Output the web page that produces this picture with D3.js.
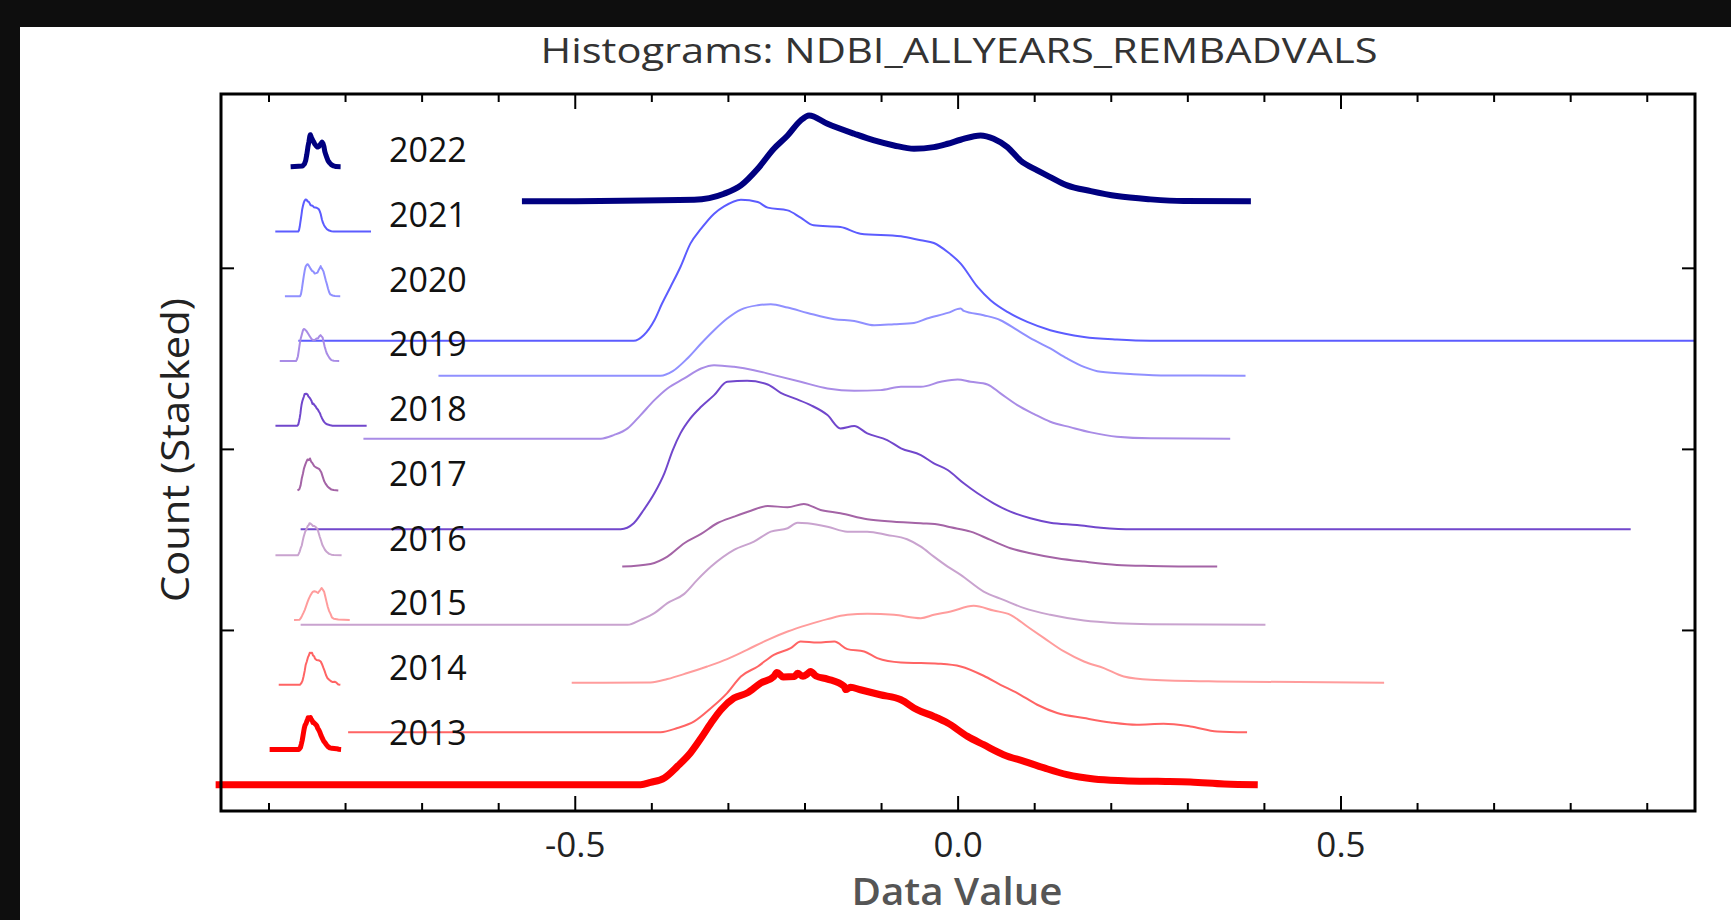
<!DOCTYPE html>
<html>
<head>
<meta charset="utf-8">
<script src="https://cdn.jsdelivr.net/npm/d3@7"></script>
<style>
  html, body { margin: 0; padding: 0; background: #0e0e0e; }
  svg { display: block; }
  text { font-family: "Open Sans", "Noto Sans", sans-serif; }
</style>
</head>
<body>
<div id="chart"></div>
<script>
// ---- data ----
// each histogram is [data value, count above its own stack offset]
const years = [2013, 2014, 2015, 2016, 2017, 2018, 2019, 2020, 2021, 2022];
const stackOffsets = [1456, 4352, 7083, 10282, 13498, 15561, 20564, 24039, 25975, 33670];

const hist2013 = [[-0.969,0],[-0.414,0],[-0.401,127],[-0.383,370],[-0.366,1009],[-0.349,1749],[-0.335,2576],[-0.322,3403],[-0.309,4137],[-0.292,4782],[-0.275,5058],[-0.257,5610],[-0.240,5974],[-0.236,6200],[-0.228,5950],[-0.213,5974],[-0.209,6150],[-0.202,5980],[-0.196,6123],[-0.192,6250],[-0.185,6000],[-0.170,5831],[-0.148,5422],[-0.146,5250],[-0.140,5380],[-0.127,5240],[-0.101,4964],[-0.074,4689],[-0.053,4137],[-0.031,3767],[-0.013,3403],[0.013,2665],[0.034,2206],[0.060,1655],[0.087,1285],[0.113,921],[0.143,552],[0.178,314],[0.217,221],[0.261,182],[0.304,149],[0.348,39],[0.392,0]];
const hist2014 = [[-0.796,0],[-0.388,0],[-0.366,232],[-0.344,596],[-0.322,1335],[-0.301,2162],[-0.283,3078],[-0.261,3630],[-0.240,4275],[-0.218,4645],[-0.205,5009],[-0.183,4953],[-0.161,5009],[-0.144,4589],[-0.122,4457],[-0.105,4093],[-0.074,3850],[-0.048,3817],[-0.022,3779],[0.004,3630],[0.034,3117],[0.056,2620],[0.078,2162],[0.104,1517],[0.130,1059],[0.165,783],[0.200,541],[0.234,414],[0.269,469],[0.304,320],[0.339,44],[0.378,0]];
const hist2015 = [[-0.504,0],[-0.401,17],[-0.379,204],[-0.353,535],[-0.327,899],[-0.301,1307],[-0.275,1820],[-0.248,2372],[-0.222,2830],[-0.196,3199],[-0.170,3514],[-0.144,3751],[-0.118,3806],[-0.083,3751],[-0.048,3569],[-0.031,3751],[-0.009,3933],[0.021,4247],[0.047,3988],[0.069,3751],[0.091,3106],[0.113,2466],[0.139,1727],[0.165,1175],[0.191,811],[0.217,348],[0.252,165],[0.339,72],[0.557,0]];
const hist2016 = [[-0.858,0],[-0.431,0],[-0.414,276],[-0.396,645],[-0.379,1197],[-0.357,1710],[-0.340,2482],[-0.322,3216],[-0.292,4137],[-0.266,4595],[-0.244,5146],[-0.222,5334],[-0.209,5643],[-0.196,5610],[-0.170,5422],[-0.144,5146],[-0.118,5146],[-0.092,4964],[-0.066,4727],[-0.048,4319],[-0.031,3767],[-0.013,3216],[0.004,2758],[0.034,1837],[0.060,1379],[0.087,921],[0.121,552],[0.165,237],[0.208,94],[0.252,39],[0.402,0]];
const hist2017 = [[-0.438,0],[-0.401,149],[-0.379,552],[-0.357,1291],[-0.335,1804],[-0.314,2394],[-0.292,2758],[-0.270,3089],[-0.248,3348],[-0.222,3277],[-0.201,3459],[-0.179,3128],[-0.153,2946],[-0.118,2615],[-0.083,2482],[-0.048,2394],[-0.022,2300],[-0.009,2173],[0.017,1931],[0.043,1473],[0.069,1015],[0.095,739],[0.130,463],[0.165,276],[0.208,94],[0.252,39],[0.339,0]];
const hist2018 = [[-0.858,0],[-0.440,0],[-0.423,331],[-0.410,1065],[-0.396,1986],[-0.383,3089],[-0.372,4374],[-0.362,5295],[-0.349,6123],[-0.335,6763],[-0.318,7408],[-0.301,8142],[-0.275,8197],[-0.248,7998],[-0.231,7535],[-0.213,7226],[-0.192,6856],[-0.170,6305],[-0.153,5571],[-0.135,5698],[-0.118,5295],[-0.092,4926],[-0.074,4468],[-0.048,4098],[-0.031,3641],[-0.013,3271],[0.008,2537],[0.026,1986],[0.047,1434],[0.069,971],[0.095,607],[0.121,364],[0.156,237],[0.187,88],[0.230,0],[0.879,0]];
const hist2019 = [[-0.776,0],[-0.466,0],[-0.449,199],[-0.431,568],[-0.414,1302],[-0.396,2129],[-0.379,2775],[-0.357,3326],[-0.335,3878],[-0.318,4060],[-0.292,3966],[-0.266,3784],[-0.240,3508],[-0.205,3139],[-0.170,2775],[-0.135,2642],[-0.101,2681],[-0.074,2863],[-0.048,2863],[-0.022,3139],[0.000,3271],[0.017,3139],[0.039,2995],[0.056,2499],[0.078,1853],[0.100,1357],[0.121,932],[0.148,623],[0.174,348],[0.208,105],[0.252,17],[0.356,0]];
const hist2020 = [[-0.678,0],[-0.388,0],[-0.372,254],[-0.353,954],[-0.335,1782],[-0.318,2515],[-0.301,3161],[-0.283,3657],[-0.261,3894],[-0.244,3950],[-0.222,3767],[-0.196,3470],[-0.161,3122],[-0.135,3028],[-0.109,2791],[-0.083,2846],[-0.057,2918],[-0.040,3161],[-0.013,3470],[0.004,3712],[0.008,3580],[0.034,3343],[0.056,3067],[0.078,2515],[0.100,1964],[0.121,1505],[0.143,954],[0.165,491],[0.187,215],[0.230,88],[0.274,17],[0.376,0]];
const hist2021 = [[-0.861,0],[-0.423,0],[-0.410,303],[-0.396,1131],[-0.386,2052],[-0.375,2968],[-0.362,4071],[-0.349,5362],[-0.335,6189],[-0.318,7017],[-0.305,7419],[-0.283,7789],[-0.261,7656],[-0.248,7348],[-0.222,7199],[-0.205,6796],[-0.188,6371],[-0.153,6277],[-0.127,5913],[-0.074,5764],[-0.048,5543],[-0.031,5394],[-0.013,4898],[0.004,4258],[0.026,2968],[0.043,2234],[0.065,1589],[0.091,1037],[0.121,579],[0.165,210],[0.208,66],[0.252,0],[0.962,0]];
const hist2022 = [[-0.569,0],[-0.344,94],[-0.305,425],[-0.283,883],[-0.261,1804],[-0.240,2907],[-0.222,3641],[-0.205,4468],[-0.194,4744],[-0.170,4286],[-0.135,3734],[-0.109,3365],[-0.083,3089],[-0.057,2907],[-0.031,2995],[-0.013,3183],[0.004,3403],[0.030,3641],[0.047,3459],[0.065,2995],[0.082,2261],[0.104,1710],[0.121,1340],[0.143,883],[0.174,568],[0.208,292],[0.252,110],[0.295,17],[0.383,0]];

const seriesData = [hist2013, hist2014, hist2015, hist2016, hist2017, hist2018, hist2019, hist2020, hist2021, hist2022];

const xMajorTicks = [-0.5, 0.0, 0.5];
const xMinorTicks = [-0.9, -0.8, -0.7, -0.6, -0.4, -0.3, -0.2, -0.1, 0.1, 0.2, 0.3, 0.4, 0.6, 0.7, 0.8, 0.9];
const yTicks = [10000, 20000, 30000];

const titleText = "Histograms: NDBI_ALLYEARS_REMBADVALS";
const xLabel = "Data Value";
const yLabel = "Count (Stacked)";

// ---- styling (not data) ----
const colors = ["#ff0000", "#ff6464", "#ff9c9c", "#c9a3cf", "#a464a6", "#7147cc", "#a98ce6", "#9090ff", "#5c5cff", "#000080"];
const widths = [7, 2, 2, 2, 2, 2, 2, 2, 2, 6];

const W = 1731, H = 920;
const plot = {left: 221, right: 1695, top: 94, bottom: 811};

const svg = d3.select("#chart").append("svg")
  .attr("width", W)
  .attr("height", H);

svg.append("rect").attr("width", W).attr("height", H).attr("fill", "#0e0e0e");
svg.append("rect").attr("x", 20).attr("y", 27).attr("width", W - 20).attr("height", H - 27).attr("fill", "#ffffff");

const x = d3.scaleLinear().domain([-0.962, 0.963]).range([plot.left, plot.right]);
const y = d3.scaleLinear().domain([0, 39600]).range([plot.bottom, plot.top]);

// histogram lines, 2013 first so later years sit on top
const g = svg.append("g");
seriesData.forEach((hist, i) => {
  const line = d3.line()
    .curve(d3.curveMonotoneX)
    .x(d => x(d[0]))
    .y(d => y(stackOffsets[i] + d[1]));
  g.append("path")
    .datum(hist)
    .attr("d", line)
    .attr("fill", "none")
    .attr("stroke", colors[i])
    .attr("stroke-width", widths[i])
    .attr("stroke-linejoin", "round");
});

// axes: minor + major ticks all pointing inward
function axisStyle(sel) {
  sel.select(".domain").remove();
  sel.selectAll(".tick line").attr("stroke", "#000").attr("stroke-width", 2);
}
svg.append("g").attr("transform", `translate(0,${plot.bottom})`)
  .call(d3.axisBottom(x).tickValues(xMinorTicks).tickSize(-8).tickFormat(""))
  .call(axisStyle);
const xb = svg.append("g").attr("transform", `translate(0,${plot.bottom})`)
  .call(d3.axisBottom(x).tickValues(xMajorTicks).tickSize(-15).tickPadding(21).tickFormat(d3.format(".1f")))
  .call(axisStyle);
xb.selectAll(".tick text")
  .attr("font-size", 35)
  .attr("fill", "#222")
  .attr("font-family", "'Open Sans', sans-serif")
  .text(d => d3.format(".1f")(d).replace("−", "-"));

svg.append("g").attr("transform", `translate(0,${plot.top})`)
  .call(d3.axisTop(x).tickValues(xMinorTicks).tickSize(-8).tickFormat(""))
  .call(axisStyle);
svg.append("g").attr("transform", `translate(0,${plot.top})`)
  .call(d3.axisTop(x).tickValues(xMajorTicks).tickSize(-15).tickFormat(""))
  .call(axisStyle);

svg.append("g").attr("transform", `translate(${plot.left},0)`)
  .call(d3.axisLeft(y).tickValues(yTicks).tickSize(-13).tickFormat(""))
  .call(axisStyle);
svg.append("g").attr("transform", `translate(${plot.right},0)`)
  .call(d3.axisRight(y).tickValues(yTicks).tickSize(-13).tickFormat(""))
  .call(axisStyle);

svg.append("rect")
  .attr("x", plot.left).attr("y", plot.top)
  .attr("width", plot.right - plot.left).attr("height", plot.bottom - plot.top)
  .attr("fill", "none").attr("stroke", "#000").attr("stroke-width", 3);

// legend: each year's histogram as a mini icon, newest at top
const legendX = d3.scaleLinear().domain([-1, 1]).range([268, 373]);
const legendRow = d3.scaleLinear().domain([0, 1]).range([149.2, 213.95]);
const legend = svg.append("g");
years.forEach((yr, i) => {
  const row = years.length - 1 - i;
  const cy = legendRow(row);
  const base = cy + 17.5;
  const hist = seriesData[i];
  const iy = d3.scaleLinear().domain([0, d3.max(hist, d => d[1])]).range([base, base - 32]);
  legend.append("path")
    .datum(hist)
    .attr("d", d3.line().x(d => legendX(d[0])).y(d => iy(d[1])))
    .attr("fill", "none")
    .attr("stroke", colors[i])
    .attr("stroke-width", widths[i] > 2 ? 5 : 2)
    .attr("stroke-linejoin", "round");
});
years.forEach((yr, i) => {
  const row = years.length - 1 - i;
  legend.append("text")
    .attr("x", 389)
    .attr("y", legendRow(row))
    .attr("dominant-baseline", "central")
    .attr("font-size", 34)
    .attr("fill", "#111")
    .text(yr);
});

// titles
svg.append("text")
  .attr("x", 959).attr("y", 63)
  .attr("text-anchor", "middle")
  .attr("font-size", 34)
  .attr("fill", "#333")
  .attr("textLength", 837)
  .attr("lengthAdjust", "spacingAndGlyphs")
  .text(titleText);

svg.append("text")
  .attr("x", 957).attr("y", 905)
  .attr("text-anchor", "middle")
  .attr("font-size", 38)
  .attr("font-weight", 600)
  .attr("fill", "#555")
  .attr("textLength", 211)
  .attr("lengthAdjust", "spacingAndGlyphs")
  .text(xLabel);

svg.append("text")
  .attr("transform", "translate(173,450) rotate(-90)")
  .attr("text-anchor", "middle")
  .attr("dominant-baseline", "central")
  .attr("font-size", 39)
  .attr("fill", "#222")
  .attr("textLength", 304)
  .attr("lengthAdjust", "spacingAndGlyphs")
  .text(yLabel);
</script>
</body>
</html>
